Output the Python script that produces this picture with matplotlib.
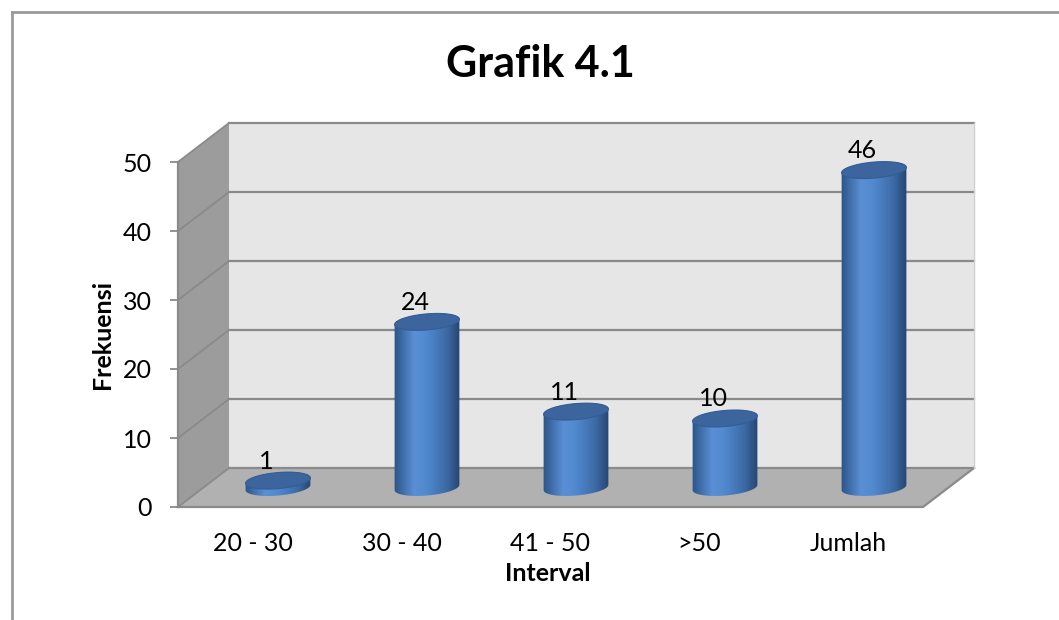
import numpy as np
import matplotlib.pyplot as plt
from matplotlib.patches import Polygon, Rectangle
from matplotlib.lines import Line2D
from matplotlib.colors import LinearSegmentedColormap

# ── data ──────────────────────────────────────────────────────────────
categories = ["20 - 30", "30 - 40", "41 - 50", ">50", "Jumlah"]
frekuensi = [1, 24, 11, 10, 46]
y_ticks = [0, 10, 20, 30, 40, 50]

plt.rcParams["font.family"] = ["Lato", "DejaVu Sans"]

W, H = 1059, 620
fig = plt.figure(figsize=(W / 100, H / 100), dpi=100)
PT = 100 / 72  # px per point

# front plane of the 3d box, in pixels
L, R, B, T = 178, 923, 507, 162
ax = fig.add_axes([L / W, 1 - B / H, (R - L) / W, (B - T) / H])
n = len(categories)
sx = (R - L) / n                 # px per category
sy = (B - T) / y_ticks[-1]       # px per unit
dx, dy = 51 / sx, 39 / sy        # depth offset
x0, x1, ytop = -0.5, n - 0.5, y_ticks[-1]

grid_c = "#8a8a8a"

# walls and floor
ax.add_patch(Rectangle((x0 + dx, dy), n, ytop, fc="#e6e6e6", ec="none", zorder=1, clip_on=False))
ax.add_patch(Polygon([(x0, 0), (x0 + dx, dy), (x0 + dx, ytop + dy), (x0, ytop)],
                     fc="#9c9c9c", ec="none", zorder=1, clip_on=False))
ax.add_patch(Polygon([(x0, 0), (x1, 0), (x1 + dx, dy), (x0 + dx, dy)],
                     fc="#b1b1b1", ec="none", zorder=1, clip_on=False))

for v in y_ticks:
    ax.plot([x0 + dx, x1 + dx], [v + dy, v + dy], color=grid_c, lw=1.6, zorder=2, clip_on=False)
    ax.plot([x0, x0 + dx], [v, v + dy], color=grid_c, lw=1.3, zorder=2, clip_on=False)
ax.plot([x0, x1, x1 + dx], [0, 0, dy], color=grid_c, lw=1.6, zorder=2, clip_on=False)
ax.plot([x0, x0], [0, ytop], color=grid_c, lw=1.6, zorder=2, clip_on=False)
ax.plot([x1 + dx, x1 + dx], [dy, ytop + dy], color="#cfcfcf", lw=1, zorder=2, clip_on=False)

# cylinders
cyl_cmap = LinearSegmentedColormap.from_list(
    "cyl", [(0, "#2b5487"), (0.3, "#5a8fd5"), (0.5, "#5088ce"), (0.8, "#3b68a2"), (1, "#24426c")])
a_px, b_px, ang = 32.5, 8, np.deg2rad(5)


def ellipse(xc, yc, t):
    px, py = a_px * np.cos(t), b_px * np.sin(t)
    rx = px * np.cos(ang) - py * np.sin(ang)
    ry = px * np.sin(ang) + py * np.cos(ang)
    return xc + rx / sx, yc + ry / sy


grad = cyl_cmap(np.linspace(0, 1, 256))[None, :, :3]
for i, v in enumerate(frekuensi):
    xc = i + dx / 2
    yb = dy / 2
    yt = yb + v
    lo = np.linspace(np.pi, 2 * np.pi, 60)
    hi = np.linspace(0, np.pi, 60)
    bx, by = ellipse(xc, yb, lo)
    tx, ty = ellipse(xc, yt, hi)
    body = Polygon(np.column_stack([np.r_[bx, tx], np.r_[by, ty]]), fc="none", ec="none",
                   zorder=3, transform=ax.transData)
    ax.add_patch(body)
    im = ax.imshow(grad, extent=[xc - 1.02 * a_px / sx, xc + 1.02 * a_px / sx,
                                 yb - 2 * b_px / sy, yt + 2 * b_px / sy],
                   aspect="auto", zorder=3, interpolation="bilinear")
    im.set_clip_path(body)
    im.set_clip_box(None)
    cx, cy = ellipse(xc, yt, np.linspace(0, 2 * np.pi, 120))
    ax.add_patch(Polygon(np.column_stack([cx, cy]), fc="#3c659e", ec="#345d94", lw=0.8,
                         zorder=4, clip_on=False))
    ax.annotate(str(v), xy=(xc, yt), xytext=(-12 / PT, 12 / PT), textcoords="offset points",
                ha="center", va="baseline", fontsize=18, zorder=5)

ax.set_xlim(-0.5, n - 0.5)
ax.set_ylim(0, y_ticks[-1])

# axes
for s in ax.spines.values():
    s.set_visible(False)
ax.set_yticks(y_ticks)
ax.tick_params(axis="y", direction="out", length=8 / PT, width=1.3, color=grid_c, pad=13, labelsize=18)
ax.set_xticks(range(n), categories)
ax.tick_params(axis="x", length=0, pad=18, labelsize=18)

fig.text(548 / W, 1 - 581 / H, "Interval", ha="center", va="baseline", fontsize=18, fontweight="bold")
fig.text(103 / W, 1 - 334 / H, "Frekuensi", ha="center", va="center", rotation=90,
         fontsize=18, fontweight="bold")
fig.text(540 / W, 1 - 77 / H, "Grafik 4.1", ha="center", va="baseline", fontsize=31, fontweight="bold")

# chart border
fig.add_artist(Line2D([12 / W, 1], [1 - 12 / H, 1 - 12 / H], color="#9a9a9a", lw=2))
fig.add_artist(Line2D([12 / W, 12 / W], [0, 1 - 12 / H], color="#9a9a9a", lw=2))

fig.savefig("out.png", dpi=100)
